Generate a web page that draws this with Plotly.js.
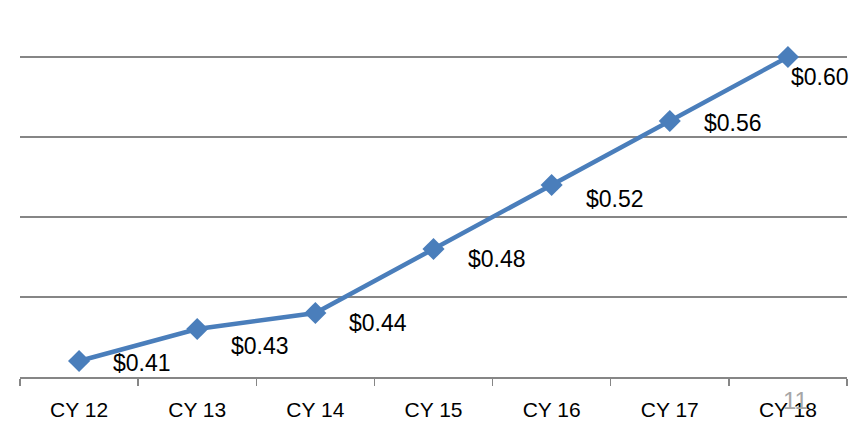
<!DOCTYPE html>
<html>
<head>
<meta charset="utf-8">
<script src="https://cdn.plot.ly/plotly-3.0.1.min.js"></script>
<style>html,body{margin:0;padding:0;background:#fff;}#chart{width:868px;height:421px;}</style>
</head>
<body>
<div id="chart"></div>
<script>
const categories = ["CY 12", "CY 13", "CY 14", "CY 15", "CY 16", "CY 17", "CY 18"];
const values = [0.41, 0.43, 0.44, 0.48, 0.52, 0.56, 0.60];
const valueLabels = ["$0.41", "$0.43", "$0.44", "$0.48", "$0.52", "$0.56", "$0.60"];
const pageNumber = "11";

// label offsets (px) relative to each marker — styling only
const labelDx = [32, 32, 32, 32, 32, 32, 1];
const labelDy = [-2, -17, -10, -10, -14, -2, -20];

const font = "'Liberation Sans', Arial, sans-serif";
const blue = "#4a7ebb";

const annotations = categories.map((c, i) => ({
  x: i, y: values[i], xref: 'x', yref: 'y',
  text: valueLabels[i], showarrow: false,
  xanchor: 'left', yanchor: 'middle',
  xshift: labelDx[i], yshift: labelDy[i],
  font: {family: font, size: 23, color: '#000'}
}));
annotations.push({
  xref: 'paper', yref: 'paper',
  x: (795 - 20) / 827, y: (377 - 400) / 336,
  xanchor: 'center', yanchor: 'middle',
  text: pageNumber, showarrow: false,
  font: {family: font, size: 24, color: '#a6a6a6'}
});

Plotly.newPlot('chart', [{
  type: 'scatter', mode: 'lines+markers',
  x: categories, y: values,
  line: {color: blue, width: 4.5},
  marker: {symbol: 'diamond', size: 17, color: blue},
  cliponaxis: false, hoverinfo: 'skip'
}], {
  width: 868, height: 421,
  margin: {l: 20, r: 21, t: 41, b: 44, pad: 0},
  paper_bgcolor: '#fff', plot_bgcolor: '#fff',
  showlegend: false,
  xaxis: {
    type: 'category', range: [-0.5, 6.5], tickson: 'boundaries', ticks: 'outside', ticklen: 7, tickwidth: 1.3,
    tickcolor: '#868686', showline: true, linecolor: '#868686', linewidth: 1.5,
    showgrid: false, zeroline: false, fixedrange: true, ticklabelstandoff: 13,
    tickfont: {family: font, size: 21, color: '#000'}
  },
  yaxis: {
    range: [0.40, 0.61], tick0: 0.40, dtick: 0.05, showticklabels: false,
    showgrid: true, gridcolor: '#868686', gridwidth: 1.5,
    zeroline: false, showline: false, ticks: '', fixedrange: true
  },
  annotations: annotations
}, {displayModeBar: false, staticPlot: true});
</script>
</body>
</html>
